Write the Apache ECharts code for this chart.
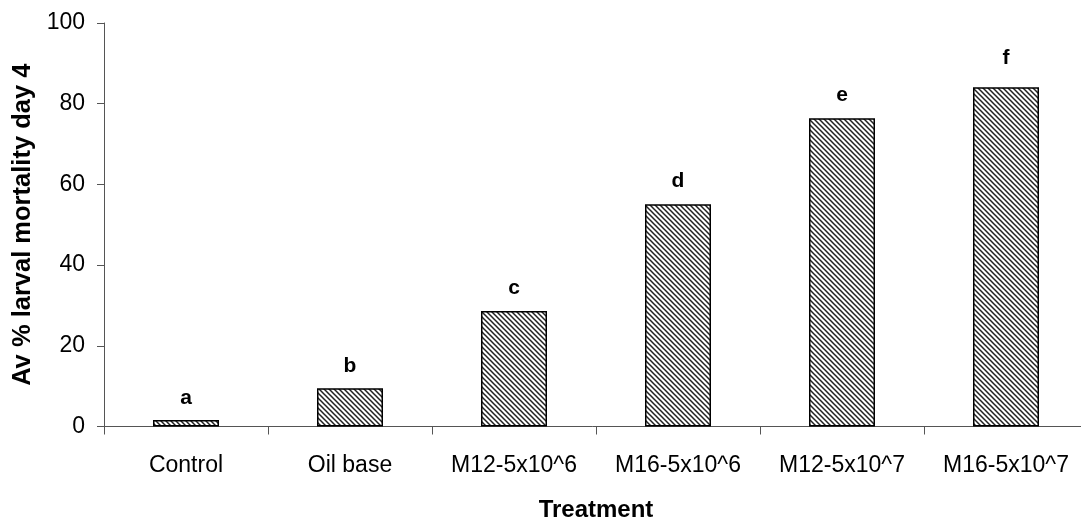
<!DOCTYPE html>
<html>
<head>
<meta charset="utf-8">
<script src="https://cdn.jsdelivr.net/npm/echarts@6/dist/echarts.min.js"></script>
<style>
  html, body { margin: 0; padding: 0; background: #fff; }
  #chart { width: 1081px; height: 521px; }
</style>
</head>
<body>
<div id="chart"></div>
<script>
// Treatments and their average larval mortality (%) on day 4
const treatments = ['Control', 'Oil base', 'M12-5x10^6', 'M16-5x10^6', 'M12-5x10^7', 'M16-5x10^7'];
const mortality = [1.6, 9.5, 28.6, 55.1, 76.4, 84.1];
const groupLetters = ['a', 'b', 'c', 'd', 'e', 'f'];
const yTicks = [0, 20, 40, 60, 80, 100];

// gap (px) between each bar top and its letter
const letterGaps = [11, 11, 12, 12, 13, 18];

const FONT = '"Liberation Sans", Arial, sans-serif';

// Diagonal hatch fill for the bars
function makeHatch() {
  const s = 5;
  const c = document.createElement('canvas');
  c.width = s; c.height = s;
  const ctx = c.getContext('2d');
  ctx.fillStyle = '#ffffff';
  ctx.fillRect(0, 0, s, s);
  ctx.strokeStyle = '#222222';
  ctx.lineWidth = 1.5;
  ctx.beginPath();
  for (let k = -1; k <= 1; k++) {
    ctx.moveTo(k * s - 1, -1);
    ctx.lineTo(k * s + s + 1, s + 1);
  }
  ctx.stroke();
  return c;
}

const chart = echarts.init(document.getElementById('chart'), null, { renderer: 'canvas' });

chart.setOption({
  animation: false,
  backgroundColor: '#ffffff',
  // the category axis runs slightly past the right edge of the canvas
  grid: { left: 104, right: -7, top: 23, bottom: 94.5, containLabel: false, outerBoundsMode: 'none' },
  xAxis: {
    type: 'category',
    data: treatments,
    name: 'Treatment',
    nameLocation: 'middle',
    nameGap: 72,
    nameTextStyle: { fontFamily: FONT, fontSize: 24, fontWeight: 'bold', color: '#000' },
    axisLine: { lineStyle: { color: '#555', width: 1 } },
    axisTick: { show: true, length: 8, lineStyle: { color: '#555' } },
    axisLabel: { fontFamily: FONT, fontSize: 23, color: '#000', margin: 28, interval: 0 },
    splitLine: { show: false }
  },
  yAxis: {
    type: 'value',
    min: yTicks[0],
    max: yTicks[yTicks.length - 1],
    interval: yTicks[1] - yTicks[0],
    name: 'Av % larval mortality day 4',
    nameLocation: 'middle',
    nameGap: 62,
    nameTextStyle: { fontFamily: FONT, fontSize: 25.5, fontWeight: 'bold', color: '#000' },
    axisLine: { show: true, lineStyle: { color: '#555', width: 1 } },
    axisTick: { show: true, length: 7, lineStyle: { color: '#555' } },
    axisLabel: { fontFamily: FONT, fontSize: 23, color: '#000', margin: 19 },
    splitLine: { show: false }
  },
  series: [{
    type: 'bar',
    data: mortality.map((v, i) => ({ value: v, label: { distance: letterGaps[i] } })),
    barWidth: 66,
    itemStyle: {
      color: { image: makeHatch(), repeat: 'repeat' },
      borderColor: '#000',
      borderWidth: 1.5
    },
    label: {
      show: true,
      position: 'top',
      fontFamily: FONT,
      fontSize: 21,
      fontWeight: 'bold',
      color: '#000',
      formatter: p => groupLetters[p.dataIndex]
    }
  }]
});
</script>
</body>
</html>
